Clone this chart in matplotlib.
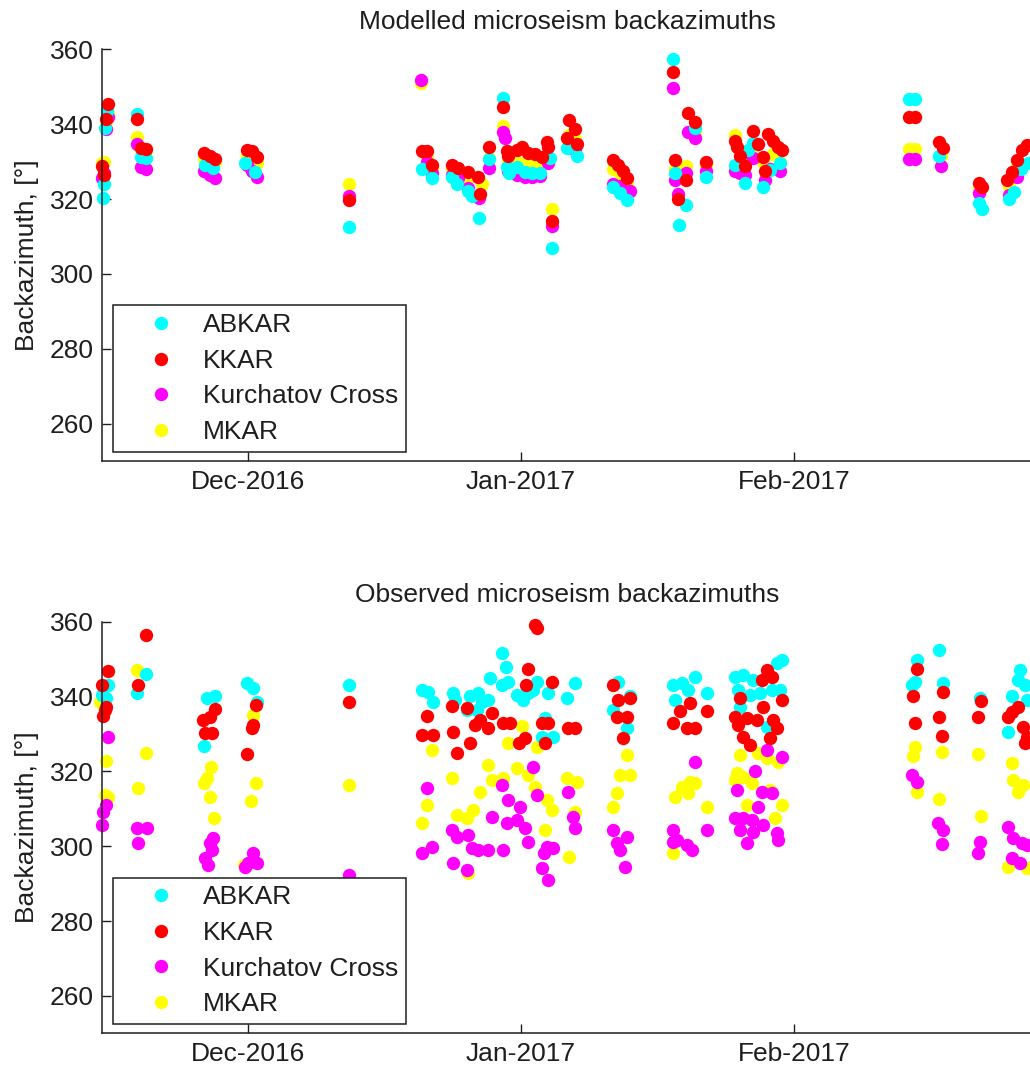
import matplotlib
matplotlib.use('Agg')
import matplotlib.pyplot as plt
import matplotlib.dates as mdates
from matplotlib.ticker import FixedLocator
from datetime import datetime

plt.rcParams['font.family'] = ['Liberation Sans', 'DejaVu Sans']

# (days after 2016-12-01, backazimuth in degrees)
MOD_ABKAR = [
    (-16.5, 320.4), (-16.4, 324.0), (-16.2, 339.1), (-16.0, 343.4),
    (-12.65, 342.6), (-12.2, 331.2), (-11.6, 330.9),
    (-4.9, 329.1), (-4.0, 328.3), (-0.38, 329.6), (0.76, 327.2),
    (11.44, 312.4),
    (19.74, 328.1), (20.9, 325.5),
    (23.15, 325.8), (23.7, 324.1), (24.97, 322.2), (25.4, 320.9), (26.2, 315.0),
    (27.35, 330.6), (28.95, 347.0), (29.4, 328.5), (29.6, 326.9),
    (30.6, 328.5), (31.45, 327.2), (32.2, 326.9), (33.15, 326.9), (34.3, 330.9), (34.5, 307.0),
    (36.2, 333.5), (37.35, 331.6),
    (41.45, 323.2), (42.2, 321.6), (43.1, 319.7),
    (48.25, 357.4), (48.5, 326.9), (48.9, 313.0), (49.7, 318.3), (50.76, 339.0), (52.0, 325.9),
    (55.3, 329.1), (56.4, 324.3), (56.8, 333.0), (57.35, 334.9), (58.5, 323.2), (59.3, 327.7), (60.4, 329.6),
    (75.1, 346.6), (75.8, 346.6), (78.5, 331.5), (83.05, 318.8), (83.4, 317.4),
    (86.45, 320.1), (87.0, 322.0), (87.8, 327.9), (88.6, 329.6),
]
MOD_KKAR = [
    (-16.6, 328.7), (-16.4, 326.3), (-16.1, 341.5), (-15.9, 345.5),
    (-12.65, 341.5), (-12.2, 333.6), (-11.6, 333.4),
    (-5.0, 332.4), (-4.35, 331.6), (-3.78, 330.8),
    (-0.15, 333.2), (0.42, 332.7), (0.99, 331.1),
    (11.44, 319.8),
    (19.74, 332.9), (20.3, 332.9), (20.9, 329.2),
    (23.15, 329.2), (23.8, 328.4), (24.97, 327.3), (26.1, 326.0), (26.3, 321.4),
    (27.35, 333.8), (28.95, 344.5), (29.4, 332.9), (29.5, 331.6),
    (30.5, 333.0), (31.1, 334.0), (31.8, 332.2), (32.6, 332.0), (33.4, 331.1), (33.95, 335.1), (34.06, 334.0),
    (34.5, 314.2),
    (36.2, 336.4), (36.5, 341.0), (37.1, 338.8), (37.35, 334.8),
    (41.45, 330.3), (42.0, 329.0), (42.6, 327.6), (43.1, 325.5),
    (48.25, 353.9), (48.5, 330.3), (48.8, 320.1), (49.7, 325.0), (49.96, 343.1), (50.76, 340.5), (52.0, 330.0),
    (55.3, 335.6), (55.5, 333.8), (55.9, 331.6), (56.4, 328.9), (57.35, 338.3), (57.9, 334.8), (58.5, 331.1),
    (58.7, 327.6), (59.05, 337.5), (59.6, 335.6), (60.2, 333.8), (60.6, 333.0),
    (75.1, 341.9), (75.8, 341.9), (78.5, 335.1), (78.95, 333.5), (83.05, 324.2), (83.4, 323.3),
    (86.2, 325.2), (86.8, 327.3), (87.35, 330.5), (87.9, 333.2), (88.5, 334.4),
]
MOD_KURCH = [
    (-16.6, 325.5), (-16.4, 327.0), (-16.1, 338.6), (-15.9, 342.0),
    (-12.65, 334.8), (-12.2, 328.6), (-11.6, 328.1),
    (-5.0, 327.5), (-4.35, 326.3), (-3.78, 325.5),
    (-0.15, 329.0), (0.42, 327.5), (0.99, 325.8),
    (11.44, 320.9),
    (19.6, 351.7), (20.3, 330.0), (20.9, 327.0),
    (23.15, 326.5), (23.8, 325.5), (24.97, 323.0), (26.2, 320.4),
    (27.35, 328.4), (28.95, 337.8), (29.15, 336.2), (29.5, 327.5),
    (30.6, 326.5), (31.45, 326.0), (32.2, 325.8), (33.15, 326.2), (34.06, 329.5), (34.5, 312.9),
    (36.5, 334.0), (37.1, 333.0),
    (41.45, 324.0), (42.2, 323.5), (43.4, 322.2),
    (48.25, 349.6), (48.5, 325.2), (48.8, 321.4), (49.7, 327.0), (49.96, 337.8), (50.76, 336.4), (52.0, 327.6),
    (55.3, 327.5), (55.9, 327.0), (56.4, 326.5), (57.35, 331.0), (58.7, 325.0), (59.3, 328.0), (60.4, 327.6),
    (75.1, 330.6), (75.8, 330.6), (78.7, 328.8), (83.05, 321.5), (86.45, 321.0), (87.35, 326.0),
]
MOD_MKAR = [
    (-16.6, 329.5), (-16.4, 330.0), (-16.1, 340.5), (-15.9, 343.0),
    (-12.65, 336.7), (-12.2, 333.0), (-11.6, 333.0),
    (-5.0, 331.0), (-4.35, 330.5), (-3.78, 330.0),
    (-0.15, 331.5), (0.42, 331.0), (0.99, 329.5),
    (11.44, 323.9),
    (19.6, 351.0), (20.3, 331.0), (20.9, 328.0),
    (23.15, 328.0), (23.8, 327.0), (24.97, 325.5), (26.55, 324.0),
    (27.35, 331.0), (28.95, 339.6), (29.5, 330.0),
    (30.6, 330.0), (31.45, 329.5), (32.2, 329.5), (33.15, 329.5), (34.06, 331.0), (34.5, 317.2),
    (36.5, 337.0), (37.1, 336.0),
    (41.45, 328.0), (42.2, 327.0), (43.1, 324.5),
    (48.5, 328.0), (49.7, 328.9), (50.76, 338.0), (52.0, 329.0),
    (55.3, 337.0), (56.4, 330.0), (57.35, 334.0), (58.5, 330.0), (59.6, 332.0), (60.4, 330.0),
    (75.1, 333.3), (75.8, 333.3), (78.7, 331.5), (83.05, 323.0), (86.45, 323.5), (87.35, 328.5),
]

OBS_ABKAR = [
    (-16.6, 340.5), (-16.1, 339.7), (-15.95, 343.2),
    (-12.65, 341.0), (-11.6, 346.1),
    (-5.0, 326.8), (-4.7, 339.7), (-3.8, 340.0),
    (-0.15, 343.7), (0.53, 342.4), (0.99, 338.4),
    (11.44, 343.2),
    (19.74, 341.8), (20.4, 341.3), (20.99, 338.6),
    (23.26, 341.0), (23.5, 339.1), (24.85, 336.5), (25.2, 340.0), (25.97, 336.5), (26.1, 341.0), (26.55, 338.6),
    (27.2, 339.1), (27.5, 345.0), (28.8, 351.7), (28.8, 343.2), (29.3, 348.0), (29.5, 344.0),
    (30.6, 340.5), (31.2, 339.1), (31.8, 341.0), (32.35, 341.8), (32.8, 344.0), (33.4, 329.3), (33.7, 334.3),
    (34.06, 341.0), (34.6, 329.3), (36.2, 339.7), (37.1, 343.7),
    (41.45, 336.5), (42.0, 344.0), (43.1, 331.7), (43.4, 340.0),
    (48.25, 343.2), (48.5, 339.1), (49.3, 343.7), (49.96, 341.8), (50.76, 345.3), (52.1, 341.0),
    (55.3, 345.3), (55.65, 341.8), (55.9, 337.3), (56.2, 345.8), (57.0, 340.5), (57.35, 344.5), (58.1, 341.0),
    (58.9, 331.9), (59.5, 341.8), (60.1, 349.0), (60.4, 341.8), (60.6, 349.8),
    (75.4, 343.2), (75.8, 344.0), (76.0, 349.8), (78.5, 352.5), (78.95, 343.7), (83.15, 339.7),
    (86.3, 330.6), (86.8, 340.2), (87.5, 344.5), (87.7, 347.2), (88.3, 343.2), (88.5, 339.1),
]
OBS_KKAR = [
    (-16.6, 343.2), (-16.5, 334.9), (-16.3, 336.5), (-16.1, 337.3), (-15.95, 346.9),
    (-12.5, 343.2), (-11.6, 356.5),
    (-5.15, 333.8), (-4.9, 330.3), (-4.35, 334.6), (-4.1, 330.3), (-3.78, 336.7),
    (-0.15, 324.7), (0.42, 331.7), (0.53, 332.5), (0.88, 337.8),
    (11.44, 338.6),
    (19.74, 329.8), (20.3, 334.9), (20.99, 329.8),
    (23.15, 337.5), (23.26, 330.6), (23.7, 325.0), (24.85, 337.0), (25.2, 327.6), (25.74, 332.5), (26.3, 333.8),
    (27.2, 331.7), (27.7, 335.7), (28.95, 333.0), (29.7, 333.0),
    (30.8, 327.6), (31.45, 329.0), (31.6, 343.2), (31.8, 347.4), (32.6, 359.2), (32.8, 358.4),
    (33.4, 333.0), (33.7, 327.6), (34.06, 333.0), (34.5, 344.0), (36.3, 331.7), (37.1, 331.7),
    (41.45, 343.2), (41.9, 334.6), (42.0, 339.1), (42.6, 329.0), (43.0, 334.6), (43.4, 339.7),
    (48.25, 333.0), (49.05, 336.0), (49.85, 331.7), (50.2, 338.3), (50.76, 331.7), (52.1, 336.0),
    (55.3, 334.6), (55.65, 332.5), (55.9, 339.7), (56.2, 329.3), (56.7, 334.3), (57.0, 327.1), (57.8, 333.8),
    (58.35, 344.5), (58.5, 337.3), (58.9, 347.2), (59.3, 329.0), (59.5, 345.3), (59.6, 333.8),
    (60.1, 331.7), (60.6, 339.1),
    (75.5, 340.2), (75.8, 333.0), (76.0, 347.4), (78.5, 334.6), (78.8, 329.5), (78.95, 341.3),
    (82.9, 334.6), (83.3, 338.9),
    (86.3, 334.6), (86.8, 335.9), (87.5, 337.3), (88.0, 331.9), (88.3, 327.6), (88.5, 329.3),
]
OBS_KURCH = [
    (-16.6, 305.7), (-16.5, 309.2), (-16.1, 311.0), (-15.95, 329.3),
    (-12.65, 304.9), (-12.5, 300.9), (-11.5, 304.9),
    (-4.9, 296.9), (-4.6, 295.0), (-4.35, 300.9), (-4.1, 299.0), (-4.0, 302.2),
    (-0.38, 294.5), (-0.03, 295.6), (0.53, 298.2), (0.99, 295.6),
    (11.44, 292.4),
    (19.74, 298.2), (20.3, 315.6), (20.9, 299.9),
    (23.15, 304.4), (23.26, 295.6), (23.7, 302.5), (24.85, 293.7), (24.97, 303.0), (25.4, 299.6), (26.1, 299.0),
    (27.2, 299.0), (27.7, 307.9), (28.8, 316.4), (28.95, 299.0), (29.4, 306.3), (29.5, 312.4),
    (30.6, 307.0), (30.9, 310.5), (31.45, 304.9), (31.8, 301.0), (32.35, 321.2), (32.8, 313.7),
    (33.4, 294.2), (33.6, 298.2), (33.95, 299.9), (34.06, 291.0), (34.6, 299.6),
    (36.3, 314.5), (36.9, 307.9), (37.1, 304.9),
    (41.45, 304.4), (41.9, 300.9), (42.2, 299.0), (42.8, 294.5), (43.1, 302.5),
    (48.25, 304.4), (48.3, 301.2), (48.7, 301.7), (49.85, 300.4), (50.4, 299.0), (50.76, 322.6), (52.1, 304.4),
    (55.3, 307.6), (55.5, 315.0), (55.9, 304.4), (56.2, 307.6), (56.7, 300.9), (57.2, 307.0), (57.35, 303.8),
    (57.6, 320.0), (57.9, 310.5), (58.35, 314.5), (58.5, 305.7), (58.9, 325.8), (59.5, 314.3),
    (60.1, 303.5), (60.2, 301.7), (60.6, 323.9),
    (75.4, 319.1), (76.0, 317.2), (78.4, 306.3), (78.8, 300.6), (78.95, 304.4),
    (82.9, 298.2), (83.15, 301.0),
    (86.3, 305.2), (86.8, 296.9), (86.9, 302.2), (87.7, 295.6), (87.9, 300.9), (88.5, 300.4),
]
OBS_MKAR = [
    (-16.8, 338.6), (-16.3, 313.7), (-16.1, 322.8), (-15.95, 313.2),
    (-12.65, 347.2), (-12.5, 315.6), (-11.6, 325.0),
    (-5.0, 317.0), (-4.7, 318.3), (-4.35, 313.2), (-4.24, 321.2), (-3.9, 307.6),
    (-0.5, 295.0), (0.31, 312.1), (0.53, 335.1), (0.88, 317.0),
    (11.44, 316.4),
    (19.74, 306.3), (20.3, 311.0), (20.9, 325.8),
    (23.15, 318.3), (23.7, 308.4), (24.85, 307.6), (24.97, 292.9), (25.5, 309.7), (26.3, 314.5),
    (27.2, 321.8), (27.7, 317.8), (28.95, 318.3), (29.5, 327.6),
    (30.6, 321.0), (31.1, 332.0), (31.8, 319.1), (32.6, 315.9), (32.8, 326.6),
    (33.7, 304.4), (33.95, 312.4), (34.5, 309.7),
    (36.2, 318.3), (36.5, 297.2), (37.1, 309.2), (37.35, 317.2),
    (41.45, 310.5), (41.9, 314.3), (42.2, 319.1), (43.1, 324.4), (43.4, 319.1),
    (48.25, 298.2), (48.5, 313.2), (49.3, 315.9), (49.96, 314.3), (50.2, 317.2), (50.76, 317.0), (52.1, 310.5),
    (55.3, 317.8), (55.5, 319.6), (55.9, 324.4), (56.2, 318.6), (56.7, 311.0), (57.2, 317.0), (57.9, 325.0),
    (58.9, 323.6), (59.3, 315.0), (59.85, 307.6), (60.2, 322.6), (60.6, 311.0),
    (75.5, 324.2), (75.8, 326.6), (76.0, 314.5), (78.5, 312.7), (78.8, 325.2),
    (82.9, 324.7), (83.3, 308.1),
    (86.3, 294.5), (86.8, 322.3), (86.9, 317.8), (87.5, 314.5), (88.0, 316.4), (88.5, 294.2),
]

STATIONS = ['ABKAR', 'KKAR', 'Kurchatov Cross', 'MKAR']
COLORS = {'ABKAR': '#00ffff', 'KKAR': '#ff0000', 'Kurchatov Cross': '#ff00ff', 'MKAR': '#ffff00'}
DRAW_ORDER = ['MKAR', 'Kurchatov Cross', 'ABKAR', 'KKAR']

T0 = mdates.date2num(datetime(2016, 12, 1))
X_LIMITS = (T0 - 16.6, T0 + 89.05)
MONTH_TICKS = [datetime(2016, 12, 1), datetime(2017, 1, 1), datetime(2017, 2, 1)]
AX_COLOR = '#1e1e1e'
FS = 19


def draw_panel(ax, series, title):
    lines = {}
    for name in DRAW_ORDER:
        days, baz = zip(*series[name])
        x = [T0 + d for d in days]
        ln, = ax.plot(x, baz, linestyle='none', marker='o', markersize=9.6,
                      markeredgewidth=0, color=COLORS[name], label=name, clip_on=False)
        lines[name] = ln

    ax.set_xlim(*X_LIMITS)
    ax.set_ylim(250, 360)
    ax.set_yticks([260, 280, 300, 320, 340, 360])
    ax.xaxis.set_major_locator(FixedLocator([mdates.date2num(d) for d in MONTH_TICKS]))
    ax.xaxis.set_major_formatter(mdates.DateFormatter('%b-%Y'))

    for side in ('top', 'right'):
        ax.spines[side].set_visible(False)
    for side in ('left', 'bottom'):
        ax.spines[side].set_color(AX_COLOR)
        ax.spines[side].set_linewidth(1.1)
    ax.tick_params(direction='in', length=6.5, width=1.0, color=AX_COLOR,
                   labelcolor=AX_COLOR, labelsize=FS)
    ax.tick_params(axis='y', pad=5.8)
    ax.tick_params(axis='x', pad=6.5)

    ax.set_title(title, fontsize=FS, color=AX_COLOR, pad=14.5)
    ax.set_ylabel('Backazimuth, [°]', fontsize=FS, color=AX_COLOR)
    ax.yaxis.set_label_coords(-0.068, 0.5)

    leg = ax.legend(handles=[lines[n] for n in STATIONS], loc='lower left',
                    bbox_to_anchor=(0.0118, 0.022), borderaxespad=0, fontsize=FS,
                    fancybox=False, framealpha=1, edgecolor=AX_COLOR, borderpad=0.3,
                    handlelength=3.06, handletextpad=0.06, labelspacing=0.44, numpoints=1)
    leg.get_frame().set_linewidth(1.1)
    for txt in leg.get_texts():
        txt.set_color(AX_COLOR)


fig = plt.figure(figsize=(10.30, 10.72), dpi=100)
ax_mod = fig.add_axes([0.0990, 0.5700, 0.9029, 0.3840])
ax_obs = fig.add_axes([0.0990, 0.0361, 0.9029, 0.3840])

draw_panel(ax_mod, {'ABKAR': MOD_ABKAR, 'KKAR': MOD_KKAR,
                    'Kurchatov Cross': MOD_KURCH, 'MKAR': MOD_MKAR},
           'Modelled microseism backazimuths')
draw_panel(ax_obs, {'ABKAR': OBS_ABKAR, 'KKAR': OBS_KKAR,
                    'Kurchatov Cross': OBS_KURCH, 'MKAR': OBS_MKAR},
           'Observed microseism backazimuths')

fig.savefig('out.png', dpi=100, facecolor='white')
